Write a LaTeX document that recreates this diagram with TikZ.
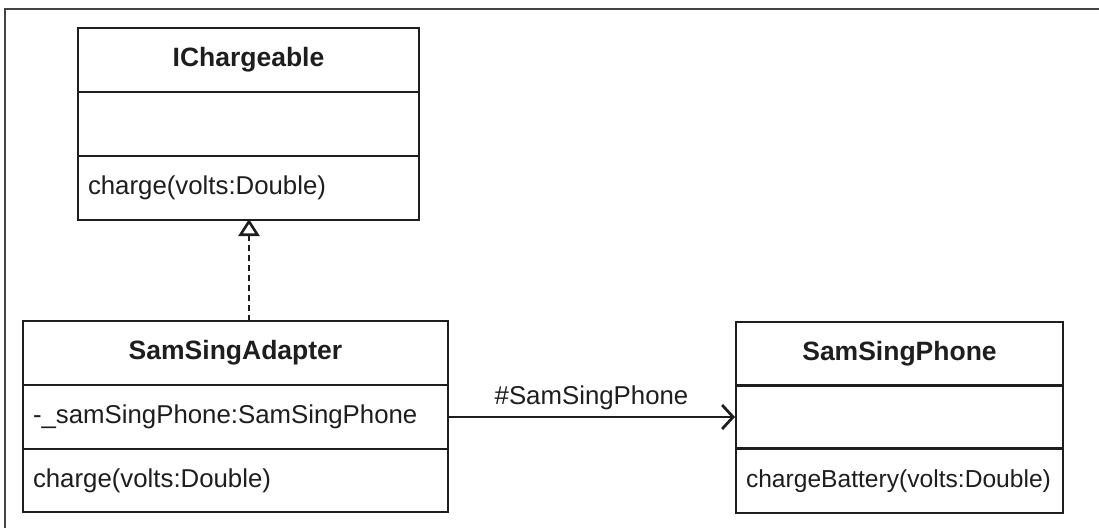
\documentclass[tikz,border=0pt]{standalone}
\usepackage{fontspec}
\setmainfont{Liberation Sans}
\usetikzlibrary{arrows.meta}
\definecolor{ink}{HTML}{1E1E1E}
\definecolor{frame}{HTML}{444444}
\begin{document}
\begin{tikzpicture}[x=1pt,y=-1pt,
  font=\fontsize{25.8}{30}\selectfont,
  every node/.style={text=ink},
  part/.style={draw=ink, line width=1.4pt, rectangle, inner sep=0pt, outer sep=0pt,
    anchor=north west, minimum height=64pt},
  titlepart/.style={part, font=\fontsize{26.5}{30}\selectfont\bfseries},
  listpart/.style={part, align=left, inner xsep=10pt},
  realize/.style={draw=ink, line width=1.5pt, dash pattern=on 6pt off 4pt,
    -{Triangle[open, length=17pt, width=21pt, line width=2.6pt, fill=white]}},
  assoc/.style={draw=ink, line width=1.5pt,
    -{Straight Barb[length=11pt, width=24pt, line width=2.8pt]}}
]
\useasboundingbox (0,0) rectangle (1099,527);
\fill[white] (0,0) rectangle (1099,527);
% outer frame
\draw[frame, line width=2.5pt] (5,540) -- (5,9) -- (1110,9);

% interface IChargeable
\node[titlepart, minimum width=341pt] (ich) at (78,28) {IChargeable};
\node[part, minimum width=341pt] (ichA) at (78,92) {};
\node[listpart, text width=321pt] (ichM) at (78,156) {charge(volts:Double)};

% adapter class
\node[titlepart, minimum width=425pt] (ad) at (23,321) {SamSingAdapter};
\node[listpart, text width=405pt] (adA) at (23,385) {-\_samSingPhone:SamSingPhone};
\node[listpart, text width=405pt, minimum height=63pt] (adM) at (23,449) {charge(volts:Double)};

% adaptee class
\node[titlepart, minimum width=327pt] (ph) at (736,322) {SamSingPhone};
\node[part, minimum width=327pt, minimum height=63pt] (phA) at (736,385) {};
\node[listpart, text width=307pt, font=\fontsize{24.6}{30}\selectfont] (phM) at (736,449) {chargeBattery(volts:Double)};

% realization
\draw[realize] (ad.north -| 249,0) coordinate (rs) -- ([yshift=1pt]rs |- ichM.south);
% association
\draw[assoc] (adA.east |- 0,417) coordinate (as) -- ([xshift=-1pt]as -| phA.west)
  node[midway, above=3pt] (lbl) {\#SamSingPhone};
\end{tikzpicture}
\end{document}
